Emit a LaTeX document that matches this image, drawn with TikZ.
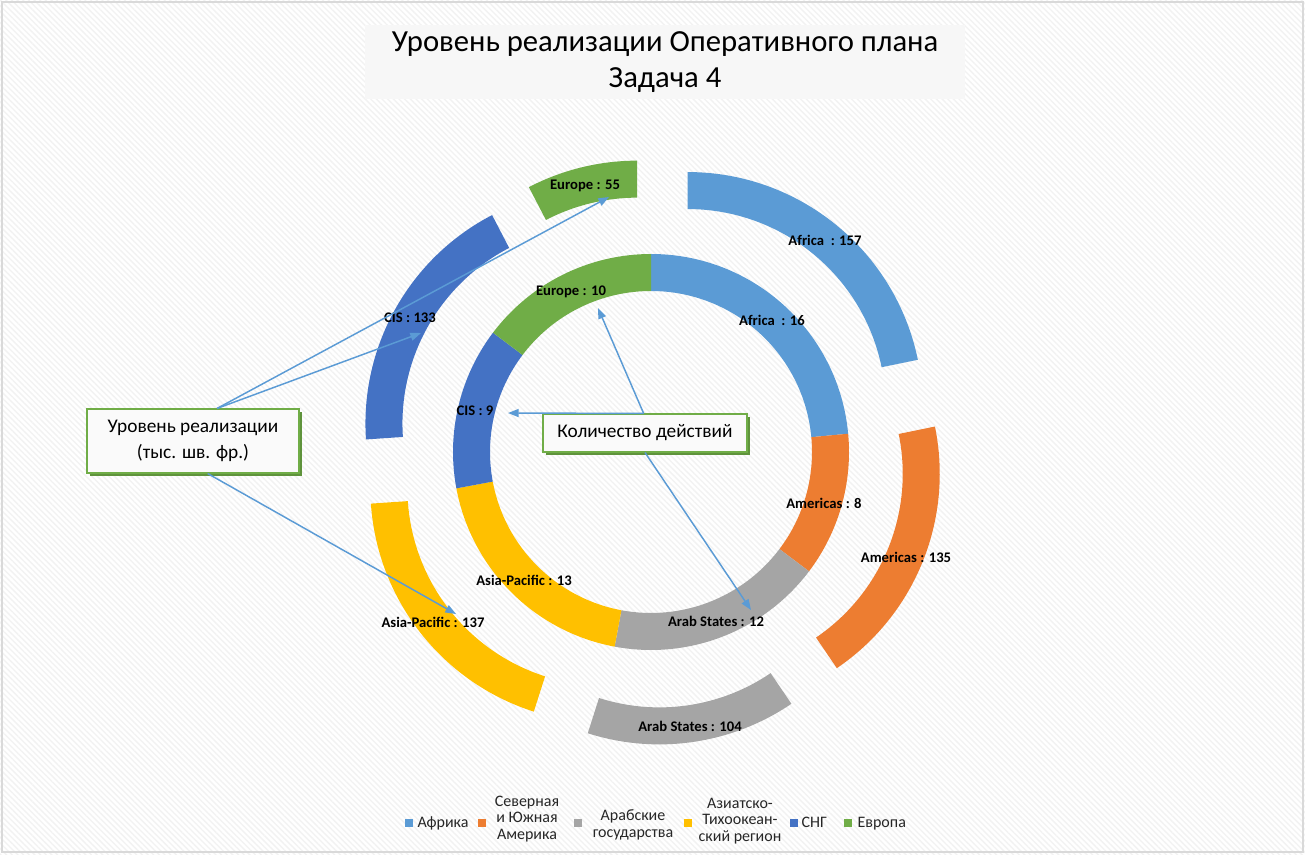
\documentclass[tikz,border=0pt]{standalone}
\usepackage{fontspec}
\setmainfont{Carlito}
\usetikzlibrary{calc,positioning,arrows.meta,patterns.meta,shadows}
\definecolor{afrblue}{HTML}{5B9BD5}
\definecolor{amorange}{HTML}{ED7D31}
\definecolor{argray}{HTML}{A5A5A5}
\definecolor{apyellow}{HTML}{FFC000}
\definecolor{cisblue}{HTML}{4472C4}
\definecolor{eugreen}{HTML}{70AD47}
\tikzset{
    ringlabel/.style={ % data labels on the rings
        font=\bfseries\fontsize{11}{13}\selectfont,
        inner sep=1pt
    },
    calloutbox/.style={
        draw=eugreen,
        line width=0.8pt,
        fill=black!2,
        align=center,
        font=\fontsize{14.5}{19}\selectfont,
        drop shadow={shadow xshift=2pt,shadow yshift=-2pt,fill=eugreen!85!black,opacity=1}
    },
    pointer/.style={
        draw=afrblue,
        line width=1.1pt,
        -{Triangle[length=8pt,width=6pt]}
    },
    legendkey/.style={minimum size=6pt,inner sep=0pt},
    legendtext/.style={font=\fontsize{12}{12.4}\selectfont,align=center,inner sep=1pt,text=black!85}
}

\begin{document}
\begin{tikzpicture}[x=0.75pt,y=0.75pt]
        \useasboundingbox (0,0) rectangle (1305,854);
        \fill[white] (0,0) rectangle (1305,854);
        \fill[pattern={Lines[angle=-45,distance=3pt,line width=1pt]},pattern color=black!5] (0,0) rectangle (1305,854);
        \draw[black!15,line width=1pt] (2,2) rectangle (1303,852);

        \node[fill=black!3,minimum width=450pt,minimum height=56pt,align=center,
              font=\fontsize{23}{27.5}\selectfont] (title) at (665,792)
              {Уровень реализации Оперативного плана\\Задача 4};

        \def\ri{161}
        \def\ro{198}
        \def\Ri{198}
        \def\Ro{235}
        \def\off{58}
        \coordinate (C) at (651,402);
        \begin{scope}[shift={(C)}]
        % inner ring: number of actions
        \fill[afrblue] (90:\ro) arc[start angle=90,end angle=5.294,radius=\ro] -- (5.294:\ri) arc[start angle=5.294,end angle=90,radius=\ri] -- cycle;
        \fill[amorange] (5.294:\ro) arc[start angle=5.294,end angle=-37.059,radius=\ro] -- (-37.059:\ri) arc[start angle=-37.059,end angle=5.294,radius=\ri] -- cycle;
        \fill[argray] (-37.059:\ro) arc[start angle=-37.059,end angle=-100.588,radius=\ro] -- (-100.588:\ri) arc[start angle=-100.588,end angle=-37.059,radius=\ri] -- cycle;
        \fill[apyellow] (-100.588:\ro) arc[start angle=-100.588,end angle=-169.412,radius=\ro] -- (-169.412:\ri) arc[start angle=-169.412,end angle=-100.588,radius=\ri] -- cycle;
        \fill[cisblue] (-169.412:\ro) arc[start angle=-169.412,end angle=-217.059,radius=\ro] -- (-217.059:\ri) arc[start angle=-217.059,end angle=-169.412,radius=\ri] -- cycle;
        \fill[eugreen] (-217.059:\ro) arc[start angle=-217.059,end angle=-270,radius=\ro] -- (-270:\ri) arc[start angle=-270,end angle=-217.059,radius=\ri] -- cycle;
        % outer ring: exploded, level of implementation
        \fill[afrblue,shift={(50.80:\off)}] (90:\Ro) arc[start angle=90,end angle=11.609,radius=\Ro] -- (11.609:\Ri) arc[start angle=11.609,end angle=90,radius=\Ri] -- cycle;
        \fill[amorange,shift={(-22.094:\off)}] (11.609:\Ro) arc[start angle=11.609,end angle=-55.797,radius=\Ro] -- (-55.797:\Ri) arc[start angle=-55.797,end angle=11.609,radius=\Ri] -- cycle;
        \fill[argray,shift={(-81.761:\off)}] (-55.797:\Ro) arc[start angle=-55.797,end angle=-107.725,radius=\Ro] -- (-107.725:\Ri) arc[start angle=-107.725,end angle=-55.797,radius=\Ri] -- cycle;
        \fill[apyellow,shift={(-141.928:\off)}] (-107.725:\Ro) arc[start angle=-107.725,end angle=-176.130,radius=\Ro] -- (-176.130:\Ri) arc[start angle=-176.130,end angle=-107.725,radius=\Ri] -- cycle;
        \fill[cisblue,shift={(-209.334:\off)}] (-176.130:\Ro) arc[start angle=-176.130,end angle=-242.538,radius=\Ro] -- (-242.538:\Ri) arc[start angle=-242.538,end angle=-176.130,radius=\Ri] -- cycle;
        \fill[eugreen,shift={(-256.269:\off)}] (-242.538:\Ro) arc[start angle=-242.538,end angle=-270,radius=\Ro] -- (-270:\Ri) arc[start angle=-270,end angle=-242.538,radius=\Ri] -- cycle;
        \end{scope}

        \node[ringlabel] (afrOut) at (825,614) {Africa\ \ : 157};
        \node[ringlabel] (amOut) at (906,297) {Americas : 135};
        \node[ringlabel] (arOut) at (690,128) {Arab States : 104};
        \node[ringlabel] (apOut) at (433,232) {Asia-Pacific : 137};
        \node[ringlabel] (cisOut) at (410,536) {CIS : 133};
        \node[ringlabel] (euOut) at (585,668) {Europe : 55};
        \node[ringlabel] (afrIn) at (772,534) {Africa\ \ : 16};
        \node[ringlabel] (amIn) at (824,351) {Americas : 8};
        \node[ringlabel] (arIn) at (716,233) {Arab States : 12};
        \node[ringlabel] (apIn) at (524,274) {Asia-Pacific : 13};
        \node[ringlabel] (cisIn) at (475,443) {CIS : 9};
        \node[ringlabel] (euIn) at (571,562) {Europe : 10};

        \node[calloutbox,minimum width=159pt,minimum height=48pt] (level) at (193,413) {Уровень реализации\\(тыс. шв. фр.)};
        \node[calloutbox,minimum width=153pt,minimum height=28.5pt] (actions) at (645,421) {Количество действий};

        \coordinate (tipEu55) at (609,657);
        \coordinate (tipCis133) at (421,521);
        \coordinate (tipAp137) at (456,240);
        \coordinate (tipCis9) at (508,441);
        \coordinate (tipEu10) at (598,546);
        \coordinate (tipAr12) at (751,244);
        \draw[pointer] ([xshift=18pt]level.north) -- (tipEu55);
        \draw[pointer] ([xshift=18pt]level.north) -- (tipCis133);
        \draw[pointer] ([xshift=11pt]level.south) -- (tipAp137);
        \draw[pointer] ([xshift=-1pt]actions.north) -- (tipCis9);
        \draw[pointer] ([xshift=-1pt]actions.north) -- (tipEu10);
        \draw[pointer] (actions.south) -- (tipAr12);

        % legend
        \node[legendkey,fill=afrblue] (kAfr) at (409,31) {};
        \node[legendtext,anchor=base west] (tAfr) at (416,27) {Африка};
        \node[legendkey,fill=amorange] (kAm) at (482,31) {};
        \node[legendtext] (tAm) at (527,35) {Северная\\и Южная\\Америка};
        \node[legendkey,fill=argray] (kAr) at (578,31) {};
        \node[legendtext] (tAr) at (633,29) {Арабские\\государства};
        \node[legendkey,fill=apyellow] (kAp) at (688,31) {};
        \node[legendtext] (tAp) at (740,33) {Азиатско-\\Тихоокеан-\\ский регион};
        \node[legendkey,fill=cisblue] (kCis) at (794,31) {};
        \node[legendtext,anchor=base west] (tCis) at (800,27) {СНГ};
        \node[legendkey,fill=eugreen] (kEu) at (848,31) {};
        \node[legendtext,anchor=base west] (tEu) at (856,27) {Европа};
    \end{tikzpicture}
\end{document}
